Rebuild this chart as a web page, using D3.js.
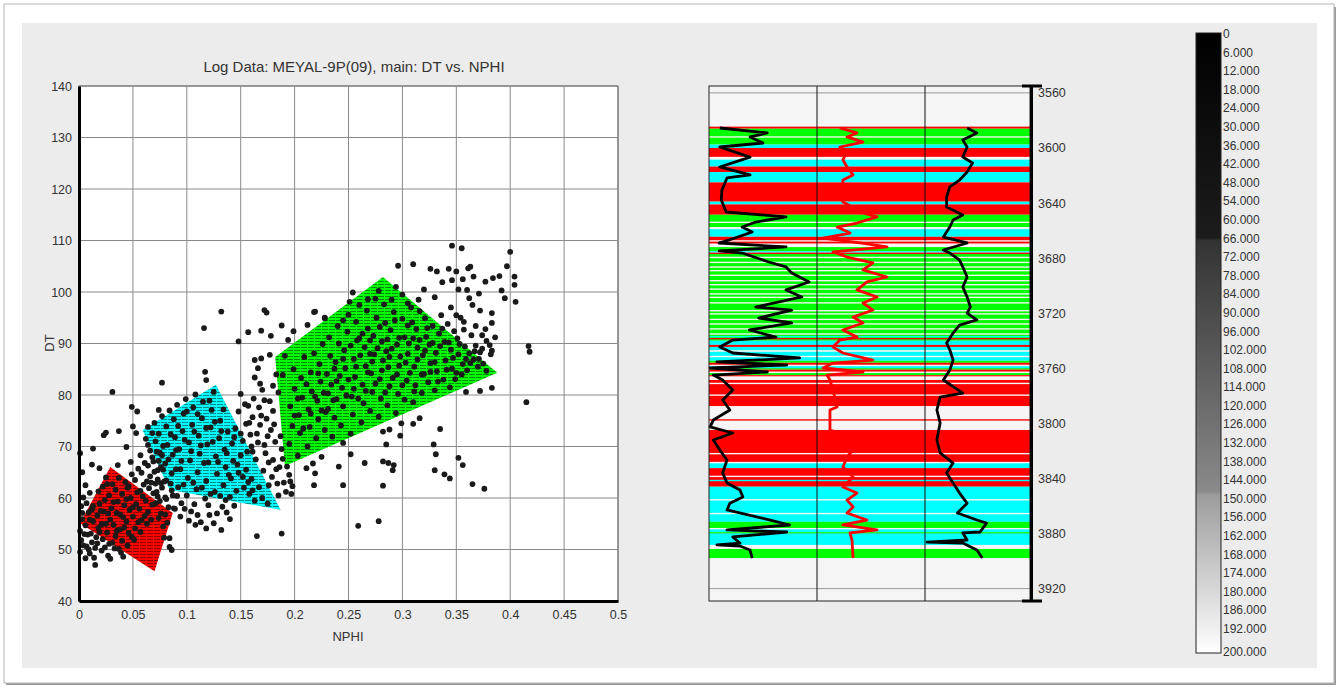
<!DOCTYPE html>
<html>
<head>
<meta charset="utf-8">
<script src="https://cdn.jsdelivr.net/npm/d3@7"></script>
<style>
body { margin: 0; background: #fff; font-family: "Liberation Sans", Arial, sans-serif; }
</style>
</head>
<body>
<div id="chart-area"></div>
<script>
// ---- data ----
var xTicks = [0, 0.05, 0.1, 0.15, 0.2, 0.25, 0.3, 0.35, 0.4, 0.45, 0.5];
var yTicks = [40, 50, 60, 70, 80, 90, 100, 110, 120, 130, 140];
var depthTicks = [3560, 3600, 3640, 3680, 3720, 3760, 3800, 3840, 3880, 3920];
var colorbarTicks = [0, 6, 12, 18, 24, 30, 36, 42, 48, 54, 60, 66, 72, 78, 84, 90, 96, 102,
    108, 114, 120, 126, 132, 138, 144, 150, 156, 162, 168, 174, 180, 186, 192, 200];

// facies polygons (NPHI, DT)
var polyRed = [[0.001, 55.1], [0.029, 66.0], [0.087, 57.1], [0.070, 45.8]];
var polyCyan = [[0.059, 73.2], [0.127, 82.0], [0.187, 57.7], [0.084, 61.6]];
var polyGreen = [[0.182, 87.4], [0.282, 102.9], [0.388, 84.3], [0.191, 66.2]];

// cross-plot points (NPHI, DT)
var pointsLow = [[0.001,49.5],[0.002,51.8],[0.001,53.6],[0.003,55.9],[0.002,58.4],[0.004,60.1],[0.001,68.7],[0.006,48.3],
  [0.007,50.6],[0.008,52.9],[0.006,54.7],[0.009,57.2],[0.007,59.0],[0.010,49.2],[0.012,51.4],[0.011,53.1],[0.013,55.5],
  [0.012,57.8],[0.015,47.0],[0.015,50.3],[0.016,52.4],[0.018,54.2],[0.017,56.6],[0.019,58.9],[0.018,61.3],[0.021,49.8],
  [0.022,52.0],[0.021,54.9],[0.023,57.4],[0.024,59.6],[0.022,62.2],[0.025,64.0],[0.027,48.8],[0.028,51.1],[0.026,53.3],
  [0.029,55.8],[0.030,58.0],[0.028,60.5],[0.031,62.7],[0.029,48.2],[0.033,50.2],[0.034,52.6],[0.032,54.8],[0.035,57.1],
  [0.036,59.3],[0.034,61.6],[0.037,63.9],[0.039,49.4],[0.040,51.7],[0.038,53.9],[0.041,56.3],[0.042,58.6],[0.040,60.8],
  [0.043,63.1],[0.041,48.6],[0.045,50.8],[0.046,53.2],[0.044,55.4],[0.047,57.7],[0.048,60.0],[0.046,62.3],[0.049,64.6],
  [0.051,51.9],[0.052,54.1],[0.050,56.4],[0.053,58.8],[0.054,61.1],[0.052,63.5],[0.055,65.7],[0.057,53.4],[0.058,55.7],
  [0.056,57.9],[0.059,60.3],[0.060,62.6],[0.058,64.9],[0.061,66.8],[0.063,55.0],[0.064,57.3],[0.062,59.5],[0.065,61.9],
  [0.066,64.2],[0.064,66.3],[0.068,58.7],[0.069,60.9],[0.067,63.0],[0.070,65.1],[0.072,61.2],[0.073,63.6],[0.075,59.4],
  [0.076,57.0],[0.078,54.5],[0.080,56.8],[0.079,52.3],[0.082,55.2],[0.084,52.2],[0.084,50.5],[0.086,49.9],[0.083,58.2],
  [0.087,60.5],[0.085,62.8],[0.089,57.9],[0.074,67.2],[0.068,67.9],[0.078,65.5],[0.081,63.4],[0.077,62.0],
  [0.004,50.8],[0.005,53.0],[0.003,57.1],[0.009,50.0],[0.010,55.8],[0.013,58.4],[0.014,48.4],[0.017,51.2],[0.019,53.4],
  [0.020,57.5],[0.024,50.4],[0.025,55.0],[0.027,57.0],[0.026,62.7],[0.031,51.3],[0.032,59.2],[0.035,53.6],[0.038,56.8],
  [0.037,50.1],[0.042,54.3],[0.044,59.8],[0.045,62.0],[0.049,52.5],[0.050,58.2],[0.055,55.3],[0.057,61.4],[0.061,56.5],
  [0.063,63.2],[0.067,55.8],[0.071,59.0],[0.074,56.1],[0.076,62.9],[0.080,60.1],[0.006,62.5],[0.010,61.0],[0.003,65.0]];

var pointsMid = [[0.062,71.5],[0.066,69.2],[0.064,73.8],[0.069,67.1],[0.071,71.0],[0.070,74.6],[0.073,65.4],[0.075,68.8],
  [0.074,72.5],[0.077,75.9],[0.079,63.2],[0.080,66.7],[0.082,70.3],[0.081,73.9],[0.084,77.0],[0.086,64.8],[0.087,68.4],
  [0.089,71.8],[0.088,75.3],[0.091,78.1],[0.092,62.1],[0.094,65.6],[0.093,69.5],[0.096,73.0],[0.097,76.4],[0.099,79.2],
  [0.100,60.5],[0.101,63.9],[0.103,67.3],[0.102,70.8],[0.105,74.2],[0.106,77.6],[0.108,80.1],[0.109,61.7],[0.110,65.0],
  [0.112,68.6],[0.111,72.1],[0.114,75.5],[0.115,78.7],[0.117,59.9],[0.118,63.3],[0.120,66.9],[0.119,70.4],[0.122,73.7],
  [0.123,77.1],[0.125,80.6],[0.126,61.2],[0.128,64.7],[0.127,68.1],[0.130,71.6],[0.131,75.0],[0.133,58.3],[0.134,62.5],
  [0.136,66.0],[0.135,69.4],[0.138,72.9],[0.140,60.2],[0.141,63.8],[0.143,67.2],[0.142,70.6],[0.146,61.4],[0.148,64.9],
  [0.150,68.3],[0.153,62.0],[0.155,65.5],[0.158,60.8],[0.160,63.7],[0.163,59.5],[0.167,62.1],[0.170,60.0],[0.175,58.9],
  [0.095,59.0],[0.104,57.4],[0.110,56.7],[0.121,56.7],[0.128,57.0],[0.118,54.1],[0.132,53.8],[0.113,55.3],[0.098,57.9],
  [0.091,60.4],[0.107,58.8],[0.125,55.1],[0.137,57.2],[0.140,55.9],[0.165,52.6],[0.188,53.1],[0.117,84.5],[0.118,82.9],
  [0.077,82.4],[0.074,77.1],[0.049,77.7],[0.054,76.8],[0.037,73.0],[0.025,72.7],[0.023,72.2],[0.013,69.6],[0.012,66.5],
  [0.019,65.8],[0.044,69.9],[0.036,66.4],[0.050,73.9],[0.053,72.6],[0.031,80.6],[0.057,68.3],[0.048,67.0],
  [0.145,73.5],[0.148,76.8],[0.150,80.2],[0.152,71.1],[0.155,74.4],[0.157,77.9],[0.156,69.0],[0.159,72.3],[0.161,75.7],
  [0.162,79.3],[0.164,67.5],[0.166,70.8],[0.168,74.2],[0.167,77.6],[0.170,81.0],[0.171,65.3],[0.173,68.7],[0.175,72.0],
  [0.174,75.4],[0.177,78.8],[0.179,64.1],[0.180,67.4],[0.182,70.9],[0.181,74.3],[0.184,62.8],[0.186,66.0],[0.188,69.5],
  [0.190,63.0],[0.192,61.2],[0.195,64.5],[0.198,62.3],[0.163,83.4],[0.166,85.2],[0.169,87.1],[0.163,86.8],[0.177,87.8],
  [0.191,87.6],[0.189,83.9],[0.178,91.5],[0.188,93.5],[0.199,92.4],[0.194,90.7],[0.148,90.4],[0.157,92.2],[0.169,92.5],
  [0.172,96.5],[0.174,96.0],[0.132,96.2],[0.116,93.0],[0.185,80.5],[0.183,84.0],[0.160,70.0],[0.176,62.5],[0.185,60.5],
  [0.197,60.8],
  [0.064,70.3],[0.068,72.6],[0.072,69.0],[0.076,66.0],[0.078,70.1],[0.083,67.5],[0.085,72.4],[0.090,69.3],[0.092,74.0],
  [0.095,67.2],[0.098,71.3],[0.100,76.8],[0.104,69.1],[0.107,72.9],[0.110,76.3],[0.113,70.2],[0.116,66.8],[0.118,73.6],
  [0.121,78.9],[0.124,70.9],[0.126,74.8],[0.129,67.0],[0.132,73.0],[0.134,77.2],[0.137,68.7],[0.139,64.5],[0.144,71.8],
  [0.147,66.5],[0.152,64.1],[0.157,63.1],[0.161,61.5],[0.086,61.5],[0.090,65.6],[0.097,62.6],[0.106,63.0],[0.114,62.0],
  [0.122,60.8],[0.131,60.4],[0.136,59.6],[0.144,58.5],[0.077,68.3],[0.071,62.8],[0.073,60.3],[0.081,59.8],[0.088,58.0],
  [0.094,56.4],[0.102,55.6],[0.108,54.8],[0.120,58.6],
  [0.150,72.5],[0.154,78.2],[0.158,74.6],[0.161,69.0],[0.165,72.5],[0.169,76.0],[0.172,70.3],[0.176,66.9],[0.178,73.2],
  [0.180,76.9],[0.183,65.6],[0.187,72.0],[0.189,67.6],[0.193,66.1],[0.196,63.2],[0.172,79.0],[0.180,81.8],[0.168,82.2]];

var pointsHigh = [[0.195,70.5],[0.198,74.0],[0.196,77.8],[0.200,81.2],[0.199,85.0],[0.203,68.2],[0.205,72.6],[0.204,76.1],
  [0.207,79.5],[0.206,83.3],[0.209,87.4],[0.212,70.0],[0.214,73.8],[0.213,77.2],[0.216,80.7],[0.215,84.4],[0.218,88.1],
  [0.220,71.6],[0.222,75.3],[0.221,78.9],[0.224,82.6],[0.223,86.0],[0.226,89.9],[0.228,73.2],[0.229,76.7],[0.231,80.3],
  [0.230,84.1],[0.233,87.6],[0.232,91.2],[0.235,71.9],[0.237,75.6],[0.236,79.0],[0.239,82.7],[0.238,86.4],[0.241,90.0],
  [0.240,93.4],[0.243,74.1],[0.245,77.8],[0.244,81.4],[0.247,85.2],[0.246,88.7],[0.249,92.3],[0.250,95.6],[0.252,72.5],
  [0.254,76.2],[0.253,79.7],[0.256,83.5],[0.255,87.0],[0.258,90.6],[0.257,94.2],[0.260,97.5],[0.262,74.7],[0.264,78.4],
  [0.263,82.0],[0.266,85.6],[0.265,89.3],[0.268,92.9],[0.267,96.4],[0.270,76.9],[0.272,80.6],[0.271,84.2],[0.274,87.9],
  [0.273,91.5],[0.276,95.0],[0.275,98.7],[0.278,75.8],[0.280,79.3],[0.279,83.1],[0.282,86.7],[0.281,90.4],[0.284,94.0],
  [0.283,97.6],[0.286,78.0],[0.288,81.7],[0.287,85.4],[0.290,89.0],[0.289,92.6],[0.292,96.1],[0.294,76.5],[0.296,80.2],
  [0.295,84.0],[0.298,87.5],[0.297,91.1],[0.300,94.8],[0.302,79.1],[0.304,82.8],[0.303,86.3],[0.306,90.0],[0.305,93.5],
  [0.308,97.0],[0.310,78.6],[0.312,81.9],[0.311,85.5],[0.314,89.2],[0.313,92.8],[0.316,96.3],[0.318,80.4],[0.320,84.1],
  [0.319,87.7],[0.322,91.3],[0.321,94.9],[0.324,82.5],[0.326,86.2],[0.325,89.8],[0.328,93.4],[0.330,80.9],[0.332,84.6],
  [0.331,88.2],[0.334,91.9],[0.336,95.5],[0.338,83.0],[0.340,86.7],[0.339,90.3],[0.342,93.8],[0.344,81.5],[0.346,85.1],
  [0.345,88.8],[0.348,92.4],[0.350,84.3],[0.352,87.9],[0.351,91.0],[0.354,95.0],[0.356,86.0],[0.358,89.4],[0.357,92.7],
  [0.360,84.8],[0.362,88.1],[0.364,91.6],[0.366,86.9],[0.368,89.6],[0.370,85.5],[0.372,88.3],[0.375,86.1],[0.378,84.7],
  [0.285,88.5],[0.270,88.0],[0.310,91.0],[0.300,99.5],[0.294,101.0],[0.260,91.0],
  [0.200,76.0],[0.203,79.3],[0.208,73.5],[0.211,82.1],[0.215,76.4],[0.219,79.7],[0.222,84.2],[0.225,77.0],[0.227,80.4],
  [0.231,77.3],[0.234,82.0],[0.237,85.1],[0.239,79.2],[0.242,83.7],[0.245,87.0],[0.248,79.9],[0.250,83.0],[0.252,89.6],
  [0.255,81.2],[0.257,85.5],[0.259,79.3],[0.261,87.7],[0.263,91.9],[0.266,80.8],[0.268,84.4],[0.270,90.6],[0.272,86.5],
  [0.275,82.2],[0.277,89.1],[0.279,93.2],[0.281,84.8],[0.284,80.5],[0.286,90.8],[0.288,87.4],[0.291,83.3],[0.293,94.5],
  [0.295,89.8],[0.297,85.7],[0.300,81.9],[0.302,91.2],[0.305,88.0],[0.307,84.3],[0.309,94.1],[0.311,80.7],[0.314,86.9],
  [0.316,90.7],[0.318,84.0],[0.321,88.6],[0.323,93.0],[0.326,84.5],[0.328,90.1],[0.330,86.4],[0.333,82.6],[0.335,89.5],
  [0.337,92.9],[0.341,84.9],[0.343,90.2],[0.347,87.2],[0.349,83.1],[0.353,89.9],[0.355,84.0],[0.359,87.0],[0.363,86.2],
  [0.367,88.5],[0.371,87.0],[0.305,97.8],[0.290,98.5],[0.278,100.2],[0.315,98.5],[0.268,98.6],[0.245,94.5]];

var outliers = [[0.218,62.5],[0.219,64.8],[0.217,66.7],[0.225,68.0],[0.211,65.8],[0.245,70.7],[0.252,68.5],[0.245,62.5],
  [0.241,66.1],[0.265,66.8],[0.282,62.4],[0.259,54.6],[0.278,55.5],[0.282,67.1],[0.287,66.8],[0.292,66.4],[0.291,65.4],
  [0.285,70.4],[0.288,73.3],[0.282,72.9],[0.298,72.1],[0.299,74.5],[0.310,74.4],[0.316,75.5],[0.335,73.4],[0.329,70.4],
  [0.331,68.5],[0.330,65.4],[0.339,64.6],[0.344,63.8],[0.352,67.8],[0.356,66.4],[0.365,62.7],[0.376,61.8],[0.359,80.6],
  [0.372,80.8],[0.383,81.4],[0.415,78.6],[0.417,89.5],[0.418,88.4],[0.381,89.7],[0.374,89.0],[0.383,88.6],[0.382,87.9],
  [0.374,91.6],[0.377,92.8],[0.383,94.0],[0.383,95.9],[0.372,96.4],[0.362,98.8],[0.360,100.4],[0.352,100.5],[0.395,98.8],
  [0.405,98.1],[0.404,101.4],[0.404,103.0],[0.400,107.8],[0.397,105.0],[0.390,103.1],[0.384,102.7],[0.377,102.0],
  [0.363,104.9],[0.361,104.6],[0.356,102.5],[0.346,102.3],[0.337,101.9],[0.343,104.5],[0.332,104.0],[0.326,104.5],
  [0.310,105.4],[0.296,105.1],[0.254,99.9],[0.251,98.1],[0.365,97.5],[0.345,97.0],[0.330,99.0],[0.320,100.5],
  [0.346,109.0],[0.355,108.5],[0.212,93.6],[0.219,96.2],[0.228,95.0],[0.218,96.1],[0.228,94.9],
  [0.350,95.5],[0.357,94.2],[0.368,93.4],[0.378,90.5],[0.386,91.2],[0.392,100.3],[0.371,99.7],[0.366,103.0],[0.350,104.0]];

// well log: facies bands [top, base, code]
var faciesBands = [
  [3584.5,3586,"R"],[3586,3597.5,"G"],[3591.5,3592.5,"W"],[3597.5,3600,"C"],[3600,3606.5,"R"],[3606.5,3608.5,"W"],
  [3608.5,3613.5,"C"],[3613.5,3617.5,"R"],[3617.5,3625,"C"],[3625,3639,"R"],[3639,3641,"C"],[3641,3648.5,"R"],
  [3648.5,3657.5,"G"],[3653.5,3654.5,"W"],[3657.5,3659,"W"],[3659,3664.5,"C"],[3664.5,3669.5,"R"],[3667,3668,"W"],
  [3669.5,3672,"W"],[3672,3675,"G"],[3675,3676,"C"],[3676,3677,"R"],[3677,3740,"G"],
  [3679,3680,"W"],[3682.6,3683.6,"W"],[3686,3687,"W"],[3688.6,3689.6,"W"],[3692,3693,"W"],[3695.9,3696.9,"W"],
  [3698.8,3699.8,"W"],[3702,3703,"W"],[3705.5,3706.5,"W"],[3708,3709,"W"],[3712,3713,"W"],[3717.7,3718.7,"W"],
  [3720,3721,"W"],[3724,3725,"W"],[3727.3,3728.3,"W"],[3730.9,3731.9,"W"],[3734.6,3735.6,"W"],[3736.5,3737.5,"C"],
  [3738,3739,"R"],
  [3740,3743,"C"],[3743,3744.5,"R"],[3744.5,3747,"C"],[3747,3748,"W"],[3748,3751,"C"],[3751,3752,"W"],[3752,3754.5,"C"],
  [3754.5,3756,"G"],[3756,3757.5,"R"],[3757.5,3758.5,"W"],[3758.5,3760,"C"],[3760,3761,"G"],[3761,3762.5,"R"],
  [3762.5,3763.5,"W"],[3763.5,3765,"G"],[3765,3766,"R"],[3766,3768.5,"W"],
  [3768.5,3787.5,"R"],[3770.5,3771.5,"W"],[3779,3780,"W"],[3787.5,3804.8,"W"],[3797,3798,"R"],
  [3804.8,3821.5,"R"],[3821.5,3822.5,"W"],[3822.5,3828,"R"],[3828,3829,"W"],[3829,3832.5,"C"],[3832.5,3846,"R"],
  [3838,3839,"W"],[3841,3842,"C"],[3846,3871.5,"C"],[3855,3856,"W"],[3865,3866,"W"],
  [3871.5,3876,"G"],[3876,3877,"W"],[3877,3879,"C"],[3879,3880,"G"],[3880,3888.3,"C"],[3888.3,3891.2,"W"],
  [3891.2,3897.8,"G"]];

// curves [depth, value]
var grCurve = [[3585.5,15],[3589.1,81],[3592,57],[3596.4,75],[3599.3,15],[3606.6,57],[3613.8,15],[3619.6,57],[3621.8,25],
  [3630.5,18],[3637.8,17],[3646.5,24],[3650.1,107],[3653.8,65],[3657.4,46],[3661,60],[3666.8,28],[3669,14],[3671.9,107],
  [3674.8,14],[3676.3,46],[3682.8,83],[3686.4,107],[3690.8,115],[3697.3,139],[3703.1,107],[3708.2,129],[3715.5,65],
  [3717.7,115],[3723.5,69],[3727.1,115],[3732.2,56],[3737.3,93],[3739.5,33],[3744.6,15],[3748.9,33],[3752.5,126],
  [3755.4,11],[3757.6,108],[3759.8,1.5],[3762.7,81],[3764.9,6],[3768.5,19],[3775.8,33],[3783,19],[3790.3,29],[3797.6,6],
  [3802.6,1.5],[3807,33],[3812.1,6],[3819.3,15],[3826.6,25],[3836,19],[3843.3,25],[3848.4,43],[3853.5,47],[3858,29],
  [3862.9,25],[3870.2,85],[3873.8,112],[3877.4,25],[3878.9,108],[3882.5,33],[3886.9,43],[3888.3,11],[3889.1,43],
  [3892,57],[3897.8,60]];

var nphiCurve = [[3585.5,0.106],[3589.1,0.185],[3592,0.139],[3595.7,0.213],[3599.3,0.106],[3602.9,0.139],[3608.7,0.12],
  [3613.8,0.139],[3619.6,0.167],[3623.3,0.12],[3630.5,0.116],[3639.2,0.12],[3647.2,0.213],[3650.1,0.278],[3654.5,0.185],
  [3657.4,0.093],[3661.8,0.153],[3665.4,0.028],[3669,0.199],[3671.9,0.324],[3675.5,0.074],[3679.2,0.139],[3683.5,0.259],
  [3688.6,0.213],[3693.7,0.324],[3697.3,0.231],[3703.1,0.185],[3708.2,0.278],[3712.6,0.213],[3717.7,0.259],[3722.8,0.167],
  [3727.1,0.213],[3732.2,0.12],[3737.3,0.185],[3739.5,0.106],[3744.6,0.074],[3748.9,0.12],[3754,0.259],[3756.2,0.074],
  [3759.8,0.028],[3762.7,0.213],[3764.9,0.046],[3768.5,0.06],[3775.8,0.074],[3788.1,0.093],[3790.3,0.06],[3804.8,0.06],
  [3807,0.106],[3819.3,0.167],[3824.4,0.139],[3831.7,0.12],[3838.9,0.167],[3846.2,0.12],[3850.6,0.185],[3855.7,0.139],
  [3860.7,0.167],[3865.1,0.139],[3870.2,0.231],[3873.8,0.12],[3877.4,0.278],[3879.6,0.153],[3884.7,0.162],[3897.8,0.167]];

var dtCurve = [[3585.5,79],[3589.1,88],[3594.2,75],[3599.3,79],[3606.6,75],[3610.9,84],[3617.5,79],[3623.3,72],[3628.3,63],
  [3635.6,60],[3642.9,60],[3648.7,75],[3652.3,66],[3657.4,63],[3664.7,57],[3669,79],[3674.1,57],[3676.3,63],[3681.4,72],
  [3686.4,75],[3693.7,79],[3701,75],[3708.2,79],[3715.5,82],[3719.9,79],[3724.9,88],[3728.6,72],[3734.4,66],[3741.6,60],
  [3746.7,63],[3754,66],[3761.3,63],[3768.5,57],[3778,75],[3780.9,54],[3790.3,51],[3799.7,54],[3812.1,51],[3821.5,54],
  [3828.8,66],[3836,60],[3843.3,66],[3850.6,72],[3858,79],[3865.1,70],[3870.2,88],[3872.4,97],[3878.9,91],[3879.6,75],
  [3884.7,79],[3886.2,42],[3886.9,75],[3892,88],[3897.8,93]];

var faciesColor = { G: "#00ff00", R: "#ff0000", C: "#00ffff", W: "#f7f5f5" };

// ---- layout ----
var W = 1340, H = 687;
var svg = d3.select("#chart-area").append("svg")
    .attr("width", W)
    .attr("height", H);

var defs = svg.append("defs");

// frame and gray panel
svg.append("rect").attr("x", 6).attr("y", 7).attr("width", 1330).attr("height", 678).attr("fill", "#9a9a9a");
svg.append("rect").attr("x", 4).attr("y", 4).attr("width", 1330).attr("height", 679)
    .attr("fill", "#fff").attr("stroke", "#b5b5b5");
svg.append("rect").attr("x", 22).attr("y", 23).attr("width", 1295).attr("height", 645).attr("fill", "#ececec");

// ---- cross plot ----
var x = d3.scaleLinear().domain([0, 0.5]).range([79, 618]);
var y = d3.scaleLinear().domain([40, 140]).range([601, 86]);

var g = svg.append("g");

g.append("rect").attr("x", x(0)).attr("y", y(140))
    .attr("width", x(0.5) - x(0)).attr("height", y(40) - y(140))
    .attr("fill", "#fff").attr("stroke", "#555");

// grid
g.selectAll(".vgrid").data(xTicks).enter().append("line")
    .attr("x1", function(d){ return x(d); }).attr("x2", function(d){ return x(d); })
    .attr("y1", y(40)).attr("y2", y(140))
    .attr("stroke", "#8a8a8a").attr("stroke-width", 1);
g.selectAll(".hgrid").data(yTicks).enter().append("line")
    .attr("x1", x(0)).attr("x2", x(0.5))
    .attr("y1", function(d){ return y(d); }).attr("y2", function(d){ return y(d); })
    .attr("stroke", "#8a8a8a").attr("stroke-width", 1);

// hatch patterns for facies polygons
function hatch(id, color) {
    var p = defs.append("pattern").attr("id", id)
        .attr("patternUnits", "userSpaceOnUse").attr("width", 7).attr("height", 3);
    p.append("rect").attr("width", 7).attr("height", 3).attr("fill", color);
    p.append("line").attr("x1", 0).attr("x2", 6).attr("y1", 2.5).attr("y2", 2.5)
        .attr("stroke", "#000").attr("stroke-opacity", 0.5).attr("stroke-width", 0.9);
}
hatch("hatch-red", "#ff0000");
hatch("hatch-cyan", "#00ffff");
hatch("hatch-green", "#00ff00");

var polyLine = d3.line().x(function(d){ return x(d[0]); }).y(function(d){ return y(d[1]); })
    .curve(d3.curveLinearClosed);

[[polyGreen, "hatch-green"], [polyCyan, "hatch-cyan"], [polyRed, "hatch-red"]].forEach(function(p){
    g.append("path").attr("d", polyLine(p[0])).attr("fill", "url(#" + p[1] + ")");
});

// points
var allPoints = pointsLow.concat(pointsMid, pointsHigh, outliers);
g.selectAll(".pt").data(allPoints).enter().append("circle")
    .attr("cx", function(d){ return x(d[0]); })
    .attr("cy", function(d){ return y(d[1]); })
    .attr("r", 2.9)
    .attr("fill", "#1a1a1a");

// axes
var xAxisCall = d3.axisBottom(x).tickValues(xTicks).tickSize(0).tickPadding(9)
    .tickFormat(function(d){ return d === 0 ? "0" : d3.format("")(+d.toFixed(2)); });
var yAxisCall = d3.axisLeft(y).tickValues(yTicks).tickSize(0).tickPadding(7);

var xAxis = g.append("g").attr("transform", "translate(0," + y(40) + ")").call(xAxisCall);
var yAxis = g.append("g").attr("transform", "translate(" + x(0) + ",0)").call(yAxisCall);
[xAxis, yAxis].forEach(function(a){
    a.select(".domain").attr("stroke", "#000").attr("stroke-width", 3);
    a.selectAll("text").attr("fill", "#333").attr("font-size", "12.5px")
        .attr("font-family", "'Liberation Sans', Arial, sans-serif");
});

// labels
svg.append("text").attr("x", 354).attr("y", 72).attr("text-anchor", "middle")
    .attr("font-size", "15px").attr("fill", "#333").text("Log Data: MEYAL-9P(09), main: DT vs. NPHI");
svg.append("text").attr("x", 348).attr("y", 641).attr("text-anchor", "middle")
    .attr("font-size", "13px").attr("fill", "#333").text("NPHI");
svg.append("text").attr("transform", "translate(54,343) rotate(-90)").attr("text-anchor", "middle")
    .attr("font-size", "13px").attr("fill", "#333").text("DT");

// ---- log tracks ----
var depth = d3.scaleLinear().domain([3555, 3929]).range([86, 601]);
var grX = d3.scaleLinear().domain([0, 150]).range([709, 817]);
var nphiX = d3.scaleLinear().domain([0, 0.5]).range([817, 925]);
var dtX = d3.scaleLinear().domain([40, 140]).range([925, 1033]);

var lg = svg.append("g");
lg.append("rect").attr("x", 709).attr("y", depth(3555)).attr("width", 321)
    .attr("height", depth(3929) - depth(3555)).attr("fill", "#f5f5f5");

lg.selectAll(".dgrid").data(depthTicks).enter().append("line")
    .attr("x1", 709).attr("x2", 1030)
    .attr("y1", function(d){ return depth(d); }).attr("y2", function(d){ return depth(d); })
    .attr("stroke", "#999");

lg.selectAll(".band").data(faciesBands).enter().append("rect")
    .attr("x", 709).attr("width", 321)
    .attr("y", function(d){ return depth(d[0]); })
    .attr("height", function(d){ return depth(d[1]) - depth(d[0]); })
    .attr("fill", function(d){ return faciesColor[d[2]]; });

function curve(data, sx, color) {
    var line = d3.line().x(function(d){ return sx(d[1]); }).y(function(d){ return depth(d[0]); });
    lg.append("path").attr("d", line(data)).attr("fill", "none")
        .attr("stroke", color).attr("stroke-width", 2.8).attr("stroke-linejoin", "round");
}
curve(grCurve, grX, "#000");
curve(nphiCurve, nphiX, "#ff0000");
curve(dtCurve, dtX, "#000");

[817, 925].forEach(function(px){
    lg.append("line").attr("x1", px).attr("x2", px).attr("y1", 86).attr("y2", 601).attr("stroke", "#111");
});
lg.append("rect").attr("x", 709).attr("y", 86).attr("width", 321).attr("height", 515)
    .attr("fill", "none").attr("stroke", "#222");

var depthAxisCall = d3.axisRight(depth).tickValues(depthTicks).tickSize(0).tickPadding(7)
    .tickFormat(d3.format("d"));
var depthAxis = lg.append("g").attr("transform", "translate(1031,0)").call(depthAxisCall);
depthAxis.select(".domain").attr("stroke", "#000").attr("stroke-width", 3);
depthAxis.selectAll("text").attr("fill", "#333").attr("font-size", "12.5px")
    .attr("font-family", "'Liberation Sans', Arial, sans-serif");
[3555, 3929].forEach(function(d){
    lg.append("line").attr("x1", 1022).attr("x2", 1042)
        .attr("y1", depth(d)).attr("y2", depth(d)).attr("stroke", "#000").attr("stroke-width", 3);
});

// ---- colour bar ----
var cb = d3.scaleLinear().domain([0, 192, 200]).range([34, 629, 652]);
var grad = defs.append("linearGradient").attr("id", "cbgrad")
    .attr("x1", 0).attr("y1", 0).attr("x2", 0).attr("y2", 1);
[[0, "#000"], [0.33, "#1c1c1c"], [0.335, "#333"], [0.5, "#555"], [0.74, "#8a8a8a"],
 [0.745, "#9c9c9c"], [0.9, "#d8d8d8"], [1, "#fff"]].forEach(function(s){
    grad.append("stop").attr("offset", s[0]).attr("stop-color", s[1]);
});
svg.append("rect").attr("x", 1196).attr("y", 33).attr("width", 25).attr("height", 620)
    .attr("fill", "url(#cbgrad)").attr("stroke", "#222");
svg.selectAll(".cbl").data(colorbarTicks).enter().append("text")
    .attr("x", 1223).attr("y", function(d){ return cb(d) + 4; })
    .attr("font-size", "12px").attr("fill", "#333")
    .text(function(d){ return d === 0 ? "0" : d3.format(".3f")(d); });
</script>
</body>
</html>
